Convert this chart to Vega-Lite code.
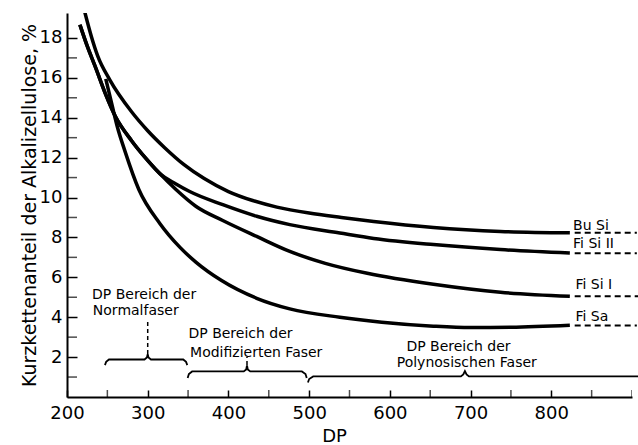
{
  "$schema": "https://vega.github.io/schema/vega-lite/v6.json",
  "width": 565,
  "height": 384,
  "autosize": {"type": "none"},
  "padding": {"left": 67, "top": 13, "right": 6, "bottom": 48},
  "background": "white",
  "config": {"view": {"stroke": null}, "font": "DejaVu Sans"},
  "datasets": {
    "curves": [
      {"series": "Bu Si", "dp": 222, "v": 19.3},
      {"series": "Bu Si", "dp": 230, "v": 18.1},
      {"series": "Bu Si", "dp": 238, "v": 17.1},
      {"series": "Bu Si", "dp": 253, "v": 15.9},
      {"series": "Bu Si", "dp": 280, "v": 14.3},
      {"series": "Bu Si", "dp": 300, "v": 13.35},
      {"series": "Bu Si", "dp": 321, "v": 12.5},
      {"series": "Bu Si", "dp": 345, "v": 11.65},
      {"series": "Bu Si", "dp": 370, "v": 10.95},
      {"series": "Bu Si", "dp": 400, "v": 10.3},
      {"series": "Bu Si", "dp": 430, "v": 9.85},
      {"series": "Bu Si", "dp": 460, "v": 9.52},
      {"series": "Bu Si", "dp": 500, "v": 9.22},
      {"series": "Bu Si", "dp": 540, "v": 9.0},
      {"series": "Bu Si", "dp": 580, "v": 8.8},
      {"series": "Bu Si", "dp": 654, "v": 8.5},
      {"series": "Bu Si", "dp": 737, "v": 8.3},
      {"series": "Bu Si", "dp": 823, "v": 8.23},
      {"series": "Fi Si II", "dp": 216, "v": 18.66},
      {"series": "Fi Si II", "dp": 225, "v": 17.6},
      {"series": "Fi Si II", "dp": 235, "v": 16.56},
      {"series": "Fi Si II", "dp": 247, "v": 15.26},
      {"series": "Fi Si II", "dp": 260, "v": 14.06},
      {"series": "Fi Si II", "dp": 280, "v": 12.85},
      {"series": "Fi Si II", "dp": 298, "v": 11.95},
      {"series": "Fi Si II", "dp": 315, "v": 11.2},
      {"series": "Fi Si II", "dp": 335, "v": 10.68},
      {"series": "Fi Si II", "dp": 352, "v": 10.3},
      {"series": "Fi Si II", "dp": 393, "v": 9.64},
      {"series": "Fi Si II", "dp": 435, "v": 9.06},
      {"series": "Fi Si II", "dp": 476, "v": 8.64},
      {"series": "Fi Si II", "dp": 538, "v": 8.22},
      {"series": "Fi Si II", "dp": 580, "v": 7.95},
      {"series": "Fi Si II", "dp": 654, "v": 7.64},
      {"series": "Fi Si II", "dp": 737, "v": 7.39},
      {"series": "Fi Si II", "dp": 823, "v": 7.22},
      {"series": "Fi Si I", "dp": 216, "v": 18.66},
      {"series": "Fi Si I", "dp": 225, "v": 17.6},
      {"series": "Fi Si I", "dp": 235, "v": 16.56},
      {"series": "Fi Si I", "dp": 247, "v": 15.26},
      {"series": "Fi Si I", "dp": 260, "v": 14.06},
      {"series": "Fi Si I", "dp": 280, "v": 12.85},
      {"series": "Fi Si I", "dp": 298, "v": 11.95},
      {"series": "Fi Si I", "dp": 315, "v": 11.2},
      {"series": "Fi Si I", "dp": 335, "v": 10.4},
      {"series": "Fi Si I", "dp": 360, "v": 9.55},
      {"series": "Fi Si I", "dp": 393, "v": 8.85},
      {"series": "Fi Si I", "dp": 435, "v": 8.05},
      {"series": "Fi Si I", "dp": 476, "v": 7.3},
      {"series": "Fi Si I", "dp": 520, "v": 6.7},
      {"series": "Fi Si I", "dp": 572, "v": 6.2},
      {"series": "Fi Si I", "dp": 654, "v": 5.65},
      {"series": "Fi Si I", "dp": 737, "v": 5.25},
      {"series": "Fi Si I", "dp": 823, "v": 5.05},
      {"series": "Fi Sa", "dp": 248, "v": 15.95},
      {"series": "Fi Sa", "dp": 256, "v": 14.6},
      {"series": "Fi Sa", "dp": 262, "v": 13.6},
      {"series": "Fi Sa", "dp": 272, "v": 12.3},
      {"series": "Fi Sa", "dp": 289, "v": 10.4},
      {"series": "Fi Sa", "dp": 315, "v": 8.7},
      {"series": "Fi Sa", "dp": 340, "v": 7.5},
      {"series": "Fi Sa", "dp": 360, "v": 6.75},
      {"series": "Fi Sa", "dp": 391, "v": 5.85},
      {"series": "Fi Sa", "dp": 435, "v": 4.95},
      {"series": "Fi Sa", "dp": 476, "v": 4.42},
      {"series": "Fi Sa", "dp": 538, "v": 4.0},
      {"series": "Fi Sa", "dp": 590, "v": 3.75},
      {"series": "Fi Sa", "dp": 654, "v": 3.55},
      {"series": "Fi Sa", "dp": 700, "v": 3.48},
      {"series": "Fi Sa", "dp": 750, "v": 3.5},
      {"series": "Fi Sa", "dp": 823, "v": 3.6}
    ],
    "dashes": [
      {"series": "Bu Si", "dp": 829, "v": 8.23},
      {"series": "Bu Si", "dp": 906, "v": 8.23},
      {"series": "Fi Si II", "dp": 829, "v": 7.2},
      {"series": "Fi Si II", "dp": 906, "v": 7.2},
      {"series": "Fi Si I", "dp": 829, "v": 5.05},
      {"series": "Fi Si I", "dp": 908, "v": 5.05},
      {"series": "Fi Sa", "dp": 829, "v": 3.58},
      {"series": "Fi Sa", "dp": 906, "v": 3.58}
    ],
    "braces": [
      {"brace": "Normal", "dp": 247, "v": 1.6},
      {"brace": "Normal", "dp": 248.5, "v": 1.76},
      {"brace": "Normal", "dp": 252, "v": 1.88},
      {"brace": "Normal", "dp": 296, "v": 1.88},
      {"brace": "Normal", "dp": 299, "v": 1.98},
      {"brace": "Normal", "dp": 300, "v": 2.15},
      {"brace": "Normal", "dp": 301, "v": 1.98},
      {"brace": "Normal", "dp": 304, "v": 1.88},
      {"brace": "Normal", "dp": 344, "v": 1.88},
      {"brace": "Normal", "dp": 347.5, "v": 1.76},
      {"brace": "Normal", "dp": 349, "v": 1.6},
      {"brace": "Mod", "dp": 349.5, "v": 0.95},
      {"brace": "Mod", "dp": 351, "v": 1.15},
      {"brace": "Mod", "dp": 355, "v": 1.28},
      {"brace": "Mod", "dp": 419, "v": 1.28},
      {"brace": "Mod", "dp": 422, "v": 1.38},
      {"brace": "Mod", "dp": 423, "v": 1.58},
      {"brace": "Mod", "dp": 424, "v": 1.38},
      {"brace": "Mod", "dp": 427, "v": 1.28},
      {"brace": "Mod", "dp": 491, "v": 1.28},
      {"brace": "Mod", "dp": 495.5, "v": 1.15},
      {"brace": "Mod", "dp": 497, "v": 0.95},
      {"brace": "Poly", "dp": 498.5, "v": 0.73},
      {"brace": "Poly", "dp": 500, "v": 0.9},
      {"brace": "Poly", "dp": 505, "v": 1.03},
      {"brace": "Poly", "dp": 688, "v": 1.03},
      {"brace": "Poly", "dp": 691, "v": 1.13},
      {"brace": "Poly", "dp": 693, "v": 1.3},
      {"brace": "Poly", "dp": 695, "v": 1.13},
      {"brace": "Poly", "dp": 698, "v": 1.03},
      {"brace": "Poly", "dp": 908, "v": 1.03}
    ],
    "leaders": [
      {"id": "n", "dp": 300, "v": 2.15},
      {"id": "n", "dp": 300, "v": 3.9},
      {"id": "m", "dp": 423, "v": 1.6},
      {"id": "m", "dp": 423, "v": 2.0}
    ],
    "minorY": [
      {"v": 1}, {"v": 3}, {"v": 5}, {"v": 7}, {"v": 9},
      {"v": 11}, {"v": 13}, {"v": 15}, {"v": 17}
    ],
    "minorX": [
      {"dp": 250}, {"dp": 350}, {"dp": 450}, {"dp": 550}, {"dp": 650},
      {"dp": 750}, {"dp": 850}, {"dp": 900}
    ],
    "notes": [
      {"dp": 231, "v": 4.92, "label": "DP Bereich der"},
      {"dp": 232, "v": 4.13, "label": "Normalfaser"},
      {"dp": 350.5, "v": 2.98, "label": "DP Bereich der"},
      {"dp": 352.5, "v": 2.03, "label": "Modifizierten Faser"},
      {"dp": 620.5, "v": 2.29, "label": "DP Bereich der"},
      {"dp": 608.5, "v": 1.48, "label": "Polynosischen Faser"}
    ],
    "names": [
      {"dp": 827, "v": 8.39, "label": "Bu Si"},
      {"dp": 827, "v": 7.49, "label": "Fi Si II"},
      {"dp": 830, "v": 5.39, "label": "Fi Si I"},
      {"dp": 830, "v": 3.83, "label": "Fi Sa"}
    ]
  },
  "layer": [
    {
      "data": {"name": "curves"},
      "mark": {"type": "line", "interpolate": "monotone", "strokeWidth": 3.5, "color": "black", "clip": true},
      "encoding": {
        "x": {
          "field": "dp", "type": "quantitative",
          "scale": {"domain": [200, 900], "nice": false, "zero": false},
          "axis": {
            "title": "DP",
            "values": [200, 300, 400, 500, 600, 700, 800],
            "grid": false,
            "tickSize": -7, "tickWidth": 1.5, "tickColor": "black",
            "domainColor": "black", "domainWidth": 2,
            "labelFontSize": 18, "labelColor": "black", "labelPadding": 14,
            "labelFlush": false, "labelOverlap": false, "labelFont": "DejaVu Sans",
            "titleFont": "DejaVu Sans", "titleFontSize": 18, "titleFontWeight": "normal", "titleColor": "black",
            "titleX": 267, "titleY": 44, "titleAlign": "center", "titleBaseline": "alphabetic"
          }
        },
        "y": {
          "field": "v", "type": "quantitative",
          "scale": {"domain": [0, 19.25], "nice": false, "zero": true},
          "axis": {
            "title": "Kurzkettenanteil der Alkalizellulose, %",
            "values": [2, 4, 6, 8, 10, 12, 14, 16, 18],
            "grid": false,
            "tickSize": -10, "tickWidth": 1.5, "tickColor": "black",
            "domainColor": "black", "domainWidth": 2,
            "labelFontSize": 18, "labelColor": "black", "labelPadding": 15,
            "labelOverlap": false, "labelFont": "DejaVu Sans",
            "titleFont": "DejaVu Sans", "titleFontSize": 19, "titleFontWeight": "normal", "titleColor": "black",
            "titleX": -32, "titleY": 192, "titleAngle": -90, "titleAlign": "center", "titleBaseline": "alphabetic"
          }
        },
        "detail": {"field": "series"}
      }
    },
    {
      "data": {"name": "minorY"},
      "mark": {"type": "tick", "orient": "horizontal", "size": 20, "thickness": 1.5, "color": "black", "clip": true},
      "encoding": {
        "x": {"datum": 200, "type": "quantitative"},
        "y": {"field": "v", "type": "quantitative"}
      }
    },
    {
      "data": {"name": "minorX"},
      "mark": {"type": "tick", "orient": "vertical", "size": 14, "thickness": 1.5, "color": "black", "clip": true},
      "encoding": {
        "x": {"field": "dp", "type": "quantitative"},
        "y": {"datum": 0, "type": "quantitative"}
      }
    },
    {
      "data": {"name": "dashes"},
      "mark": {"type": "line", "strokeWidth": 2, "strokeDash": [6, 4], "color": "black", "clip": false},
      "encoding": {
        "x": {"field": "dp", "type": "quantitative"},
        "y": {"field": "v", "type": "quantitative"},
        "detail": {"field": "series"}
      }
    },
    {
      "data": {"name": "braces"},
      "mark": {"type": "line", "strokeWidth": 1.8, "color": "black", "clip": false},
      "encoding": {
        "x": {"field": "dp", "type": "quantitative"},
        "y": {"field": "v", "type": "quantitative"},
        "detail": {"field": "brace"}
      }
    },
    {
      "data": {"name": "leaders"},
      "mark": {"type": "line", "strokeWidth": 1.5, "strokeDash": [4, 3], "color": "black"},
      "encoding": {
        "x": {"field": "dp", "type": "quantitative"},
        "y": {"field": "v", "type": "quantitative"},
        "detail": {"field": "id"}
      }
    },
    {
      "data": {"name": "notes"},
      "mark": {"type": "text", "align": "left", "baseline": "alphabetic", "fontSize": 14, "font": "DejaVu Sans", "color": "black"},
      "encoding": {
        "x": {"field": "dp", "type": "quantitative"},
        "y": {"field": "v", "type": "quantitative"},
        "text": {"field": "label"}
      }
    },
    {
      "data": {"name": "names"},
      "mark": {"type": "text", "align": "left", "baseline": "alphabetic", "fontSize": 14, "font": "DejaVu Sans", "color": "black"},
      "encoding": {
        "x": {"field": "dp", "type": "quantitative"},
        "y": {"field": "v", "type": "quantitative"},
        "text": {"field": "label"}
      }
    }
  ]
}
